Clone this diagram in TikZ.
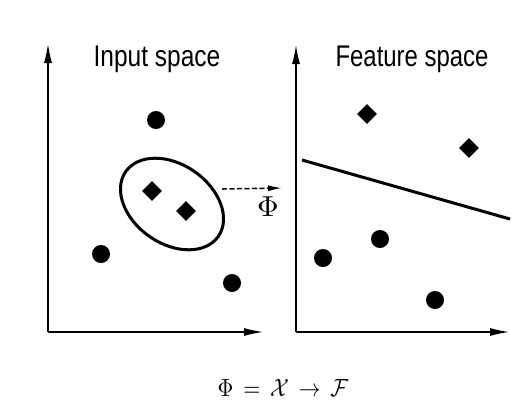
\documentclass[tikz,border=0pt]{standalone}
\usepackage{graphicx}
\usepackage{fontspec}
\setsansfont{Liberation Sans}
\usetikzlibrary{shapes.geometric,arrows.meta}
\begin{document}
\begin{tikzpicture}[x=1bp,y=-1bp,
  axis/.style={line width=2bp,-{Latex[length=20bp,width=8bp]}},
  dot/.style={circle,fill=black,inner sep=0pt,minimum size=18bp},
  dia/.style={diamond,fill=black,inner sep=0pt,minimum size=20bp},
  title/.style={inner sep=0pt,font=\sffamily\fontsize{30}{32}\selectfont},
  sep/.style={line width=3bp}]
\useasboundingbox (0,0) rectangle (511,409);
% left panel axes
\coordinate (lo) at (48,332);
\coordinate (ly) at (48,43);
\coordinate (lx) at (264,332);
\draw[axis] (lo) -- (ly);
\draw[axis] (lo) -- (lx);
% right panel axes
\coordinate (ro) at (296,332);
\coordinate (ry) at (296,44);
\coordinate (rx) at (510,332);
\draw[axis] (ro) -- (ry);
\draw[axis] (ro) -- (rx);
% titles
\node[title] (tin) at (157,59) {\scalebox{0.82}[1]{Input space}};
\node[title] (tfe) at (412,59) {\scalebox{0.8}[1]{Feature space}};
% input space points
\node[dot] (c1) at (156,120) {};
\node[dot] (c2) at (101,254) {};
\node[dot] (c3) at (232,283) {};
\node[dia] (d1) at (152,191) {};
\node[dia] (d2) at (186,211) {};
\node[ellipse,draw,line width=3bp,minimum width=113bp,minimum height=79bp,inner sep=0pt,rotate=-35] (ell) at (172,204) {};
% mapping arrow
\coordinate (ms) at (222,189);
\coordinate (me) at (282,188);
\draw[line width=1.5bp,dash pattern=on 5bp off 2.5bp,-{Latex[length=14bp,width=6bp]}] (ms) -- (me);
\node[inner sep=0pt] (phi) at (268,207) {\scalebox{3}[2.9]{$\Phi$}};
% feature space points
\node[dia] (f1) at (367,114) {};
\node[dia] (f2) at (469,148) {};
\node[dot] (g1) at (323,258) {};
\node[dot] (g2) at (380,239) {};
\node[dot] (g3) at (435,300) {};
\coordinate (ha) at (302,160);
\coordinate (hb) at (510,219);
\draw[sep] (ha) -- (hb);
% formula
\node[inner sep=0pt] (form) at (283,388) {\scalebox{2.2}[2.5]{$\Phi \,=\, \mathcal{X} \,\rightarrow\, \mathcal{F}$}};
\end{tikzpicture}
\end{document}
